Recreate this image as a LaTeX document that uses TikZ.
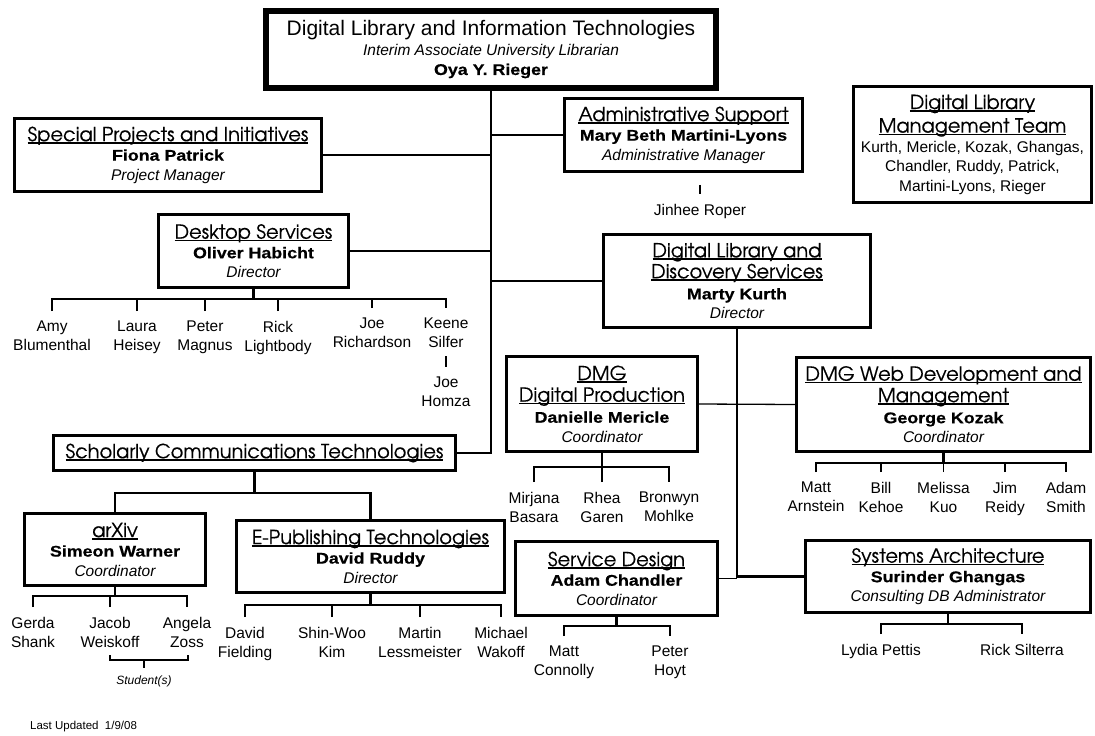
\documentclass[tikz,border=0pt]{standalone}
\usepackage{fontspec}
\setmainfont{Liberation Sans}
\newfontfamily\hdfamily{TeX Gyre Adventor}[FakeBold=0.4]
\newfontfamily\blkfamily{Liberation Sans}[FakeStretch=1.15,FakeBold=0.5]
\newcommand\hd[1]{{\hdfamily\fontsize{19.4}{19.5}\selectfont\setbox0\hbox{#1}\rlap{\rule[-2.6pt]{\wd0}{1.5pt}}\box0}}
\newcommand\nmb[1]{{\blkfamily\bfseries #1}}
\newcommand\ttl[1]{{\itshape #1}}
\begin{document}
\begin{tikzpicture}[x=1pt,y=-1pt,
  bx/.style={draw, line width=2.8pt, inner sep=0pt, align=center, font=\fontsize{15.5}{19.5}\selectfont},
  nm/.style={align=center, inner xsep=0pt, inner ysep=10pt, anchor=north, font=\fontsize{15.5}{19}\selectfont},
  thinl/.style={line width=1.3pt},
  medl/.style={line width=2.2pt},
  bus/.style={line width=2.8pt}]
\path[fill=white,use as bounding box] (0,0) rectangle (1095,736);

% boxes
\node[bx, line width=5.5pt, minimum width=450, minimum height=77] (top) at (491,49.5)
  {{\fontsize{21}{19.5}\selectfont Digital Library and Information Technologies}\\\ttl{Interim Associate University Librarian}\\\nmb{Oya Y. Rieger}};
\node[bx, minimum width=307, minimum height=73] (sp) at (168,155)
  {\hd{Special Projects and Initiatives}\\\nmb{Fiona Patrick}\\\ttl{Project Manager}};
\node[bx, minimum width=238, minimum height=73] (as) at (683.5,135)
  {\hd{Administrative Support}\\\nmb{Mary Beth Martini-Lyons}\\\ttl{Administrative Manager}};
\node[bx, minimum width=238, minimum height=116] (dlmt) at (972.5,144.5)
  {\hd{Digital Library}\\[4pt]\hd{Management Team}\\Kurth, Mericle, Kozak, Ghangas,\\Chandler, Ruddy, Patrick,\\Martini-Lyons, Rieger};
\node[bx, minimum width=190, minimum height=73] (ds) at (253.5,251)
  {\hd{Desktop Services}\\\nmb{Oliver Habicht}\\\ttl{Director}};
\node[bx, line width=2.5pt, minimum width=267, minimum height=93] (dlds) at (737,281)
  {\hd{Digital Library and}\\[1.5pt]\hd{Discovery Services}\\[1.5pt]\nmb{Marty Kurth}\\\ttl{Director}};
\node[bx, minimum width=402, minimum height=35] (sc) at (254.5,453)
  {\hd{Scholarly Communications Technologies}};
\node[bx, minimum width=191, minimum height=95] (dmgdp) at (602,404)
  {\hd{DMG}\\[2pt]\hd{Digital Production}\\[1.5pt]\nmb{Danielle Mericle}\\\ttl{Coordinator}};
\node[bx, minimum width=294, minimum height=94] (dmgw) at (943.5,404.5)
  {\hd{DMG Web Development and}\\[2pt]\hd{Management}\\[1.5pt]\nmb{George Kozak}\\\ttl{Coordinator}};
\node[bx, minimum width=181, minimum height=72] (arxiv) at (115,549.5)
  {\hd{arXiv}\\\nmb{Simeon Warner}\\\ttl{Coordinator}};
\node[bx, minimum width=268, minimum height=72] (epub) at (370.5,556.5)
  {\hd{E-Publishing Technologies}\\\nmb{David Ruddy}\\\ttl{Director}};
\node[bx, minimum width=202, minimum height=74] (sd) at (616.5,578.5)
  {\hd{Service Design}\\\nmb{Adam Chandler}\\\ttl{Coordinator}};
\node[bx, minimum width=285, minimum height=72] (sa) at (948,576.5)
  {\hd{Systems Architecture}\\\nmb{Surinder Ghangas}\\\ttl{Consulting DB Administrator}};

% main connectors
\draw[bus] (top.south) -- (top.south |- sc.east) -- (sc.east);
\draw[thinl] (sp.east) -- (sp.east -| top.south);
\draw[thinl] (as.west) -- (as.west -| top.south);
\draw[bus] (ds.east) -- (ds.east -| top.south);
\draw[thinl] (dlds.west) -- (dlds.west -| top.south);
\draw[bus] (dlds.south) -- (dlds.south |- sa.west) -- (sa.west);
\draw[thinl] (sd.east) -- (sd.east -| dlds.south);
\draw[thinl] (dmgdp.east) -- (dmgw.west);

% Jinhee
\node[nm] (jinhee) at (700,194) {Jinhee Roper};
\draw[bus, shorten <=12pt] (as.south -| jinhee.north) -- (jinhee.north);

% Desktop services staff
\node[nm] (amy) at (52,311) {Amy\\Blumenthal};
\node[nm] (laura) at (137,311) {Laura\\Heisey};
\node[nm] (peter) at (205,311) {Peter\\Magnus};
\node[nm] (rick) at (278,311) {Rick\\Lightbody};
\node[nm] (joer) at (372,308) {Joe\\Richardson};
\node[nm] (keene) at (446,308) {Keene\\Silfer};
\node[nm] (homza) at (446,367) {Joe\\Homza};
\coordinate (dsb) at (253.5,299);
\draw[bus] (ds.south) -- (dsb);
\draw[bus] (amy.north) |- (dsb) -| (keene.north);
\foreach \n in {laura,peter,rick,joer} \draw[bus] (\n.north) -- (\n.north |- dsb);
\draw[medl, shorten <=-2pt] (keene.south) -- (homza.north);

% SC children
\coordinate (scb) at (254.5,493);
\draw[bus] (sc.south) -- (scb);
\draw[bus] (arxiv.north) |- (scb) -| (epub.north);

% arXiv staff
\node[nm] (gerda) at (33,607) {Gerda\\Shank};
\node[nm] (jacob) at (110,607) {Jacob\\Weiskoff};
\node[nm] (angela) at (187,607) {Angela\\Zoss};
\coordinate (axb) at (115,596);
\draw[bus] (arxiv.south) -- (axb);
\draw[bus] (gerda.north) |- (axb) -| (angela.north);
\draw[bus] (jacob.north) -- (jacob.north |- axb);
\node[anchor=north, inner sep=0pt, font=\itshape\fontsize{12}{14}\selectfont] (stud) at (144,676) {Student(s)};
\coordinate (stl) at (110,655);
\coordinate (str) at (188,655);
\coordinate (stb) at (144,660);
\draw[medl] (stl) |- (stb) -| (str);
\draw[medl, shorten >=8pt] (stb) -- (stud.north);

% E-Publishing staff
\node[nm] (dfield) at (245,617) {David\\Fielding};
\node[nm] (shinwoo) at (332,617) {Shin-Woo\\Kim};
\node[nm] (martin) at (420,617) {Martin\\Lessmeister};
\node[nm] (michael) at (501,617) {Michael\\Wakoff};
\coordinate (epb) at (370.5,605);
\draw[bus] (epub.south) -- (epb);
\draw[bus] (dfield.north) |- (epb) -| (michael.north);
\foreach \n in {shinwoo,martin} \draw[bus] (\n.north) -- (\n.north |- epb);

% DMG Digital Production staff
\node[nm] (mirjana) at (534,482) {Mirjana\\Basara};
\node[nm] (rhea) at (602,482) {Rhea\\Garen};
\node[nm] (bronwyn) at (669,482) {Bronwyn\\Mohlke};
\coordinate (dpb) at (602,467);
\draw[bus] (dmgdp.south) -- (dpb);
\draw[bus] (mirjana.north) |- (dpb) -| (bronwyn.north);
\draw[bus] (rhea.north) -- (rhea.north |- dpb);

% DMG Web staff
\node[nm] (matta) at (816,472) {Matt\\Arnstein};
\node[nm] (bill) at (881,472) {Bill\\Kehoe};
\node[nm] (melissa) at (943.5,472) {Melissa\\Kuo};
\node[nm] (jim) at (1005,472) {Jim\\Reidy};
\node[nm] (adam) at (1066,472) {Adam\\Smith};
\coordinate (wb) at (943.5,463);
\draw[medl] (dmgw.south) -- (wb);
\draw[thinl] (matta.north) |- (wb) -| (adam.north);
\foreach \n in {bill,melissa,jim} \draw[thinl] (\n.north) -- (\n.north |- wb);

% Service Design staff
\node[nm] (mattc) at (564,636) {Matt\\Connolly};
\node[nm] (peterh) at (670,636) {Peter\\Hoyt};
\coordinate (sdb) at (616.5,626);
\draw[bus] (sd.south) -- (sdb);
\draw[bus] (mattc.north) |- (sdb) -| (peterh.north);

% Systems Architecture staff
\node[nm] (lydia) at (881,634) {Lydia Pettis};
\node[nm] (ricks) at (1022,634) {Rick Silterra};
\coordinate (sab) at (948,624);
\draw[bus] (sa.south) -- (sab);
\draw[bus] (lydia.north) |- (sab) -| (ricks.north);

% footer
\node[anchor=west, inner sep=0pt, font=\fontsize{11.5}{13}\selectfont] (upd) at (30,727) {Last Updated\ \ 1/9/08};
\end{tikzpicture}
\end{document}
